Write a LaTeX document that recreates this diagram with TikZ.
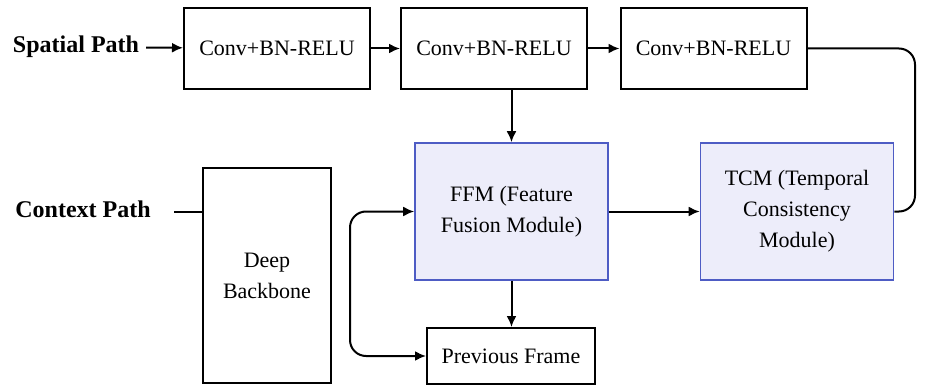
\documentclass[tikz,border=0pt]{standalone}
\usepackage{fontspec}
\setmainfont{Liberation Serif}
\usetikzlibrary{arrows.meta}

\definecolor{ffmfill}{RGB}{237,237,250}
\definecolor{ffmdraw}{RGB}{78,92,196}

\tikzset{
  blk/.style={draw,line width=1pt,align=center,font=\fontsize{11}{15.5}\selectfont},
  convbox/.style={blk,minimum width=93pt,minimum height=40.5pt},
  modbox/.style={blk,line width=0.8pt,draw=ffmdraw,fill=ffmfill,minimum width=96.5pt,minimum height=68.5pt},
  lbl/.style={font=\fontsize{12}{14}\selectfont\bfseries},
  tip/.tip={Latex[length=5.5pt,width=5pt]},
  arr/.style={line width=1pt,-tip}
}

\begin{document}
\begin{tikzpicture}[x=0.5pt,y=-0.5pt]
      \useasboundingbox (0,0) rectangle (926,385);

      % spatial path
      \node[lbl] (sp) at (76,47) {Spatial Path};
      \foreach \n/\x in {c1/277,c2/494,c3/713.5}
        \node[convbox] (\n) at (\x,48.5) {Conv+BN-RELU};

      % context path
      \node[lbl] (cp) at (83,209) {Context Path};
      \coordinate (cpin) at (174,212);
      \node[blk,minimum width=64pt,minimum height=107.5pt] (deep) at (267,275.5) {Deep\\Backbone};

      \node[modbox] (ffm) at (511.5,211.5) {FFM (Feature\\Fusion Module)};
      \node[modbox] (tcm) at (797,211.5) {TCM (Temporal\\Consistency\\Module)};
      \node[blk,minimum width=84pt,minimum height=28pt] (prev) at (511,356) {Previous Frame};

      \coordinate (rt) at (915,0);
      \coordinate (lp) at (350,0);

      \draw[arr] (sp) -- (c1);
      \draw[arr] (c1) -- (c2);
      \draw[arr] (c2) -- (c3);
      \draw[arr] (ffm.north |- c2.south) -- (ffm.north);
      \draw[line width=1pt] (cpin) -- (cpin -| deep.west);
      \draw[arr] (ffm) -- (tcm);
      \draw[arr] (ffm.south) -- (ffm.south |- prev.north);
      \draw[line width=1pt,rounded corners=8pt] (c3.east) -- (c3.east -| rt) -- (tcm.east -| rt) -- (tcm.east);
      \draw[line width=1pt,tip-tip,rounded corners=8pt] (ffm.west) -- (ffm.west -| lp) -- (prev.west -| lp) -- (prev.west);
\end{tikzpicture}
\end{document}
